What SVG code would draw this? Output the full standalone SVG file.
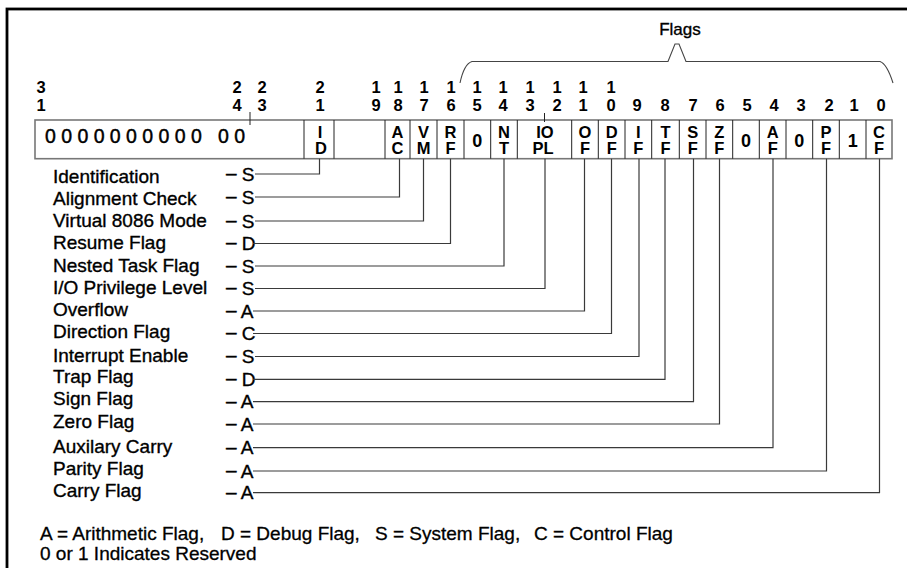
<svg xmlns="http://www.w3.org/2000/svg" width="907" height="568" viewBox="0 0 907 568">
  <style>
    text { font-family: "Liberation Sans", Arial, sans-serif; fill: #000; }
    .bit { font-size: 16.5px; font-weight: bold; text-anchor: middle; }
    .cell { font-size: 16.5px; font-weight: bold; text-anchor: middle; }
    .cell0 { font-size: 18px; font-weight: bold; text-anchor: middle; }
    .label { font-size: 19px; stroke: #000; stroke-width: 0.35; }
    .kind { font-size: 19px; stroke: #000; stroke-width: 0.35; }
    .legend { font-size: 19px; stroke: #000; stroke-width: 0.3; }
    .frame { fill: none; stroke: #000; stroke-width: 2.8; }
    .reg { fill: #fff; stroke: #777; stroke-width: 1.6; }
    .div { stroke: #222; stroke-width: 1; }
    .wire { fill: none; stroke: #3a3a3a; stroke-width: 1.2; }
    .brace { fill: none; stroke: #444; stroke-width: 1.1; }
  </style>

  <rect width="907" height="568" fill="#fff"/>
  <!-- outer frame: only the top and left edges fall inside the canvas -->
  <rect class="frame" x="7" y="9" width="920" height="580"/>

  <!-- Flags brace over bits 15..0 -->
  <g id="flags-brace">
    <text x="680" y="35" style="font-size:17px;stroke:#000;stroke-width:0.35" text-anchor="middle">Flags</text>
    <path class="brace" d="M460,83 Q464,64 472,61.5 L668,61.5 L675,44 L679,44 L686,61.5 L880,61.5 Q887,64 893,83"/>
  </g>

  <!-- bit numbers -->
  <g id="bit-numbers" class="bit">
    <text class="bit" x="41" y="93">3</text><text class="bit" x="41" y="110.5">1</text>
    <text class="bit" x="237" y="93">2</text><text class="bit" x="237" y="110.5">4</text>
    <text class="bit" x="262" y="93">2</text><text class="bit" x="262" y="110.5">3</text>
    <text class="bit" x="320" y="93">2</text><text class="bit" x="320" y="110.5">1</text>
    <text class="bit" x="376" y="93">1</text><text class="bit" x="376" y="110.5">9</text>
    <text class="bit" x="398" y="93">1</text><text class="bit" x="398" y="110.5">8</text>
    <text class="bit" x="424" y="93">1</text><text class="bit" x="424" y="110.5">7</text>
    <text class="bit" x="451" y="93">1</text><text class="bit" x="451" y="110.5">6</text>
    <text class="bit" x="477" y="93">1</text><text class="bit" x="477" y="110.5">5</text>
    <text class="bit" x="503" y="93">1</text><text class="bit" x="503" y="110.5">4</text>
    <text class="bit" x="530" y="93">1</text><text class="bit" x="530" y="110.5">3</text>
    <text class="bit" x="557" y="93">1</text><text class="bit" x="557" y="110.5">2</text>
    <text class="bit" x="583" y="93">1</text><text class="bit" x="583" y="110.5">1</text>
    <text class="bit" x="611" y="93">1</text><text class="bit" x="611" y="110.5">0</text>
    <text class="bit" x="637" y="110.5">9</text>
    <text class="bit" x="665" y="110.5">8</text>
    <text class="bit" x="693" y="110.5">7</text>
    <text class="bit" x="720" y="110.5">6</text>
    <text class="bit" x="747" y="110.5">5</text>
    <text class="bit" x="774" y="110.5">4</text>
    <text class="bit" x="801" y="110.5">3</text>
    <text class="bit" x="829" y="110.5">2</text>
    <text class="bit" x="854" y="110.5">1</text>
    <text class="bit" x="881" y="110.5">0</text>
  </g>

  <!-- the register itself -->
  <g id="register">
    <rect class="reg" x="35" y="120" width="857" height="38.7"/>
    <line class="div" x1="250" y1="112" x2="250" y2="125"/>
    <line class="div" x1="544.5" y1="113" x2="544.5" y2="122"/>
    <g>
      <line class="div" x1="304" y1="120" x2="304" y2="158.7"/>
      <line class="div" x1="334" y1="120" x2="334" y2="158.7"/>
      <line class="div" x1="385" y1="120" x2="385" y2="158.7"/>
      <line class="div" x1="410" y1="120" x2="410" y2="158.7"/>
      <line class="div" x1="437" y1="120" x2="437" y2="158.7"/>
      <line class="div" x1="464" y1="120" x2="464" y2="158.7"/>
      <line class="div" x1="490.7" y1="120" x2="490.7" y2="158.7"/>
      <line class="div" x1="517.3" y1="120" x2="517.3" y2="158.7"/>
      <line class="div" x1="571.7" y1="120" x2="571.7" y2="158.7"/>
      <line class="div" x1="598.3" y1="120" x2="598.3" y2="158.7"/>
      <line class="div" x1="625" y1="120" x2="625" y2="158.7"/>
      <line class="div" x1="651.7" y1="120" x2="651.7" y2="158.7"/>
      <line class="div" x1="679.3" y1="120" x2="679.3" y2="158.7"/>
      <line class="div" x1="706" y1="120" x2="706" y2="158.7"/>
      <line class="div" x1="732.7" y1="120" x2="732.7" y2="158.7"/>
      <line class="div" x1="759.3" y1="120" x2="759.3" y2="158.7"/>
      <line class="div" x1="786" y1="120" x2="786" y2="158.7"/>
      <line class="div" x1="812.7" y1="120" x2="812.7" y2="158.7"/>
      <line class="div" x1="839.3" y1="120" x2="839.3" y2="158.7"/>
      <line class="div" x1="866" y1="120" x2="866" y2="158.7"/>
    </g>
    <text x="45" y="142.5" style="font-size:19.5px;stroke:#000;stroke-width:0.45" textLength="200">0000000000 00</text>
  </g>

  <!-- flag cells -->
  <g id="cell-id"><text class="cell" x="320" y="137.5">I</text><text class="cell" x="321" y="154">D</text></g>
  <g id="cell-ac"><text class="cell" x="397.5" y="137.5">A</text><text class="cell" x="397.5" y="154">C</text></g>
  <g id="cell-vm"><text class="cell" x="423.5" y="137.5">V</text><text class="cell" x="423.5" y="154">M</text></g>
  <g id="cell-rf"><text class="cell" x="450.5" y="137.5">R</text><text class="cell" x="450.5" y="154">F</text></g>
  <g id="cell-b15"><text class="cell0" x="477.3" y="146.5">0</text></g>
  <g id="cell-nt"><text class="cell" x="504" y="137.5">N</text><text class="cell" x="504" y="154">T</text></g>
  <g id="cell-iopl"><text class="cell" x="545" y="137.5">IO</text><text class="cell" x="543" y="154">PL</text></g>
  <g id="cell-of"><text class="cell" x="585" y="137.5">O</text><text class="cell" x="585" y="154">F</text></g>
  <g id="cell-df"><text class="cell" x="611.7" y="137.5">D</text><text class="cell" x="611.7" y="154">F</text></g>
  <g id="cell-if"><text class="cell" x="638.3" y="137.5">I</text><text class="cell" x="638.3" y="154">F</text></g>
  <g id="cell-tf"><text class="cell" x="665.5" y="137.5">T</text><text class="cell" x="665.5" y="154">F</text></g>
  <g id="cell-sf"><text class="cell" x="692.7" y="137.5">S</text><text class="cell" x="692.7" y="154">F</text></g>
  <g id="cell-zf"><text class="cell" x="719.3" y="137.5">Z</text><text class="cell" x="719.3" y="154">F</text></g>
  <g id="cell-b5"><text class="cell0" x="746" y="146.5">0</text></g>
  <g id="cell-af"><text class="cell" x="772.7" y="137.5">A</text><text class="cell" x="772.7" y="154">F</text></g>
  <g id="cell-b3"><text class="cell0" x="799.3" y="146.5">0</text></g>
  <g id="cell-pf"><text class="cell" x="826" y="137.5">P</text><text class="cell" x="826" y="154">F</text></g>
  <g id="cell-b1"><text class="cell0" x="852.7" y="146.5">1</text></g>
  <g id="cell-cf"><text class="cell" x="879" y="137.5">C</text><text class="cell" x="879" y="154">F</text></g>

  <!-- flag names with their kind letter (dash raised to the connector line) -->
  <g id="flag-names">
    <g id="name-id"><text class="label" x="53" y="182.7">Identification</text><text class="kind" x="226" y="180.5"><tspan dy="-1.7">–</tspan><tspan dy="1.7"> S</tspan></text></g>
    <g id="name-ac"><text class="label" x="53" y="204.5">Alignment Check</text><text class="kind" x="226" y="203.5"><tspan dy="-1.7">–</tspan><tspan dy="1.7"> S</tspan></text></g>
    <g id="name-vm"><text class="label" x="53" y="226.7">Virtual 8086 Mode</text><text class="kind" x="226" y="227.5"><tspan dy="-1.7">–</tspan><tspan dy="1.7"> S</tspan></text></g>
    <g id="name-rf"><text class="label" x="53" y="249.3">Resume Flag</text><text class="kind" x="226" y="250"><tspan dy="-1.7">–</tspan><tspan dy="1.7"> D</tspan></text></g>
    <g id="name-nt"><text class="label" x="53" y="271.7">Nested Task Flag</text><text class="kind" x="226" y="272.5"><tspan dy="-1.7">–</tspan><tspan dy="1.7"> S</tspan></text></g>
    <g id="name-iopl"><text class="label" x="53" y="293.5">I/O Privilege Level</text><text class="kind" x="226" y="295"><tspan dy="-1.7">–</tspan><tspan dy="1.7"> S</tspan></text></g>
    <g id="name-of"><text class="label" x="53" y="316">Overflow</text><text class="kind" x="226" y="317.5"><tspan dy="-1.7">–</tspan><tspan dy="1.7"> A</tspan></text></g>
    <g id="name-df"><text class="label" x="53" y="338.3">Direction Flag</text><text class="kind" x="226" y="340"><tspan dy="-1.7">–</tspan><tspan dy="1.7"> C</tspan></text></g>
    <g id="name-if"><text class="label" x="53" y="361.7">Interrupt Enable</text><text class="kind" x="226" y="363"><tspan dy="-1.7">–</tspan><tspan dy="1.7"> S</tspan></text></g>
    <g id="name-tf"><text class="label" x="53" y="383.3">Trap Flag</text><text class="kind" x="226" y="385.8"><tspan dy="-1.7">–</tspan><tspan dy="1.7"> D</tspan></text></g>
    <g id="name-sf"><text class="label" x="53" y="405">Sign Flag</text><text class="kind" x="226" y="408.2"><tspan dy="-1.7">–</tspan><tspan dy="1.7"> A</tspan></text></g>
    <g id="name-zf"><text class="label" x="53" y="428.3">Zero Flag</text><text class="kind" x="226" y="430.5"><tspan dy="-1.7">–</tspan><tspan dy="1.7"> A</tspan></text></g>
    <g id="name-af"><text class="label" x="53" y="453.3">Auxilary Carry</text><text class="kind" x="226" y="454.2"><tspan dy="-1.7">–</tspan><tspan dy="1.7"> A</tspan></text></g>
    <g id="name-pf"><text class="label" x="53" y="475">Parity Flag</text><text class="kind" x="226" y="477.5"><tspan dy="-1.7">–</tspan><tspan dy="1.7"> A</tspan></text></g>
    <g id="name-cf"><text class="label" x="53" y="496.7">Carry Flag</text><text class="kind" x="226" y="499.2"><tspan dy="-1.7">–</tspan><tspan dy="1.7"> A</tspan></text></g>
  </g>

  <!-- connectors from each kind letter up to its bit -->
  <g id="connectors" class="wire">
    <path class="wire" d="M255,174 H319.5 V158.7"/>
    <path class="wire" d="M255,197 H399.5 V158.7"/>
    <path class="wire" d="M255,221 H423.5 V158.7"/>
    <path class="wire" d="M253,243.5 H450.5 V158.7"/>
    <path class="wire" d="M255,266 H504 V158.7"/>
    <path class="wire" d="M255,288.5 H545 V158.7"/>
    <path class="wire" d="M253,311 H584.5 V158.7"/>
    <path class="wire" d="M253,333.5 H611.5 V158.7"/>
    <path class="wire" d="M255,356.5 H639 V158.7"/>
    <path class="wire" d="M253,379.3 H665 V158.7"/>
    <path class="wire" d="M253,401.7 H693.5 V158.7"/>
    <path class="wire" d="M253,424 H719.5 V158.7"/>
    <path class="wire" d="M253,447.7 H773 V158.7"/>
    <path class="wire" d="M253,471 H826.5 V158.7"/>
    <path class="wire" d="M253,492.7 H879.5 V158.7"/>
  </g>

  <!-- key -->
  <g id="legend" class="legend">
    <text class="legend" x="40" y="540">A = Arithmetic Flag,</text>
    <text class="legend" x="221" y="540">D = Debug Flag,</text>
    <text class="legend" x="375" y="540">S = System Flag,</text>
    <text class="legend" x="534" y="540">C = Control Flag</text>
    <text class="legend" x="40" y="560">0 or 1 Indicates Reserved</text>
  </g>
</svg>
